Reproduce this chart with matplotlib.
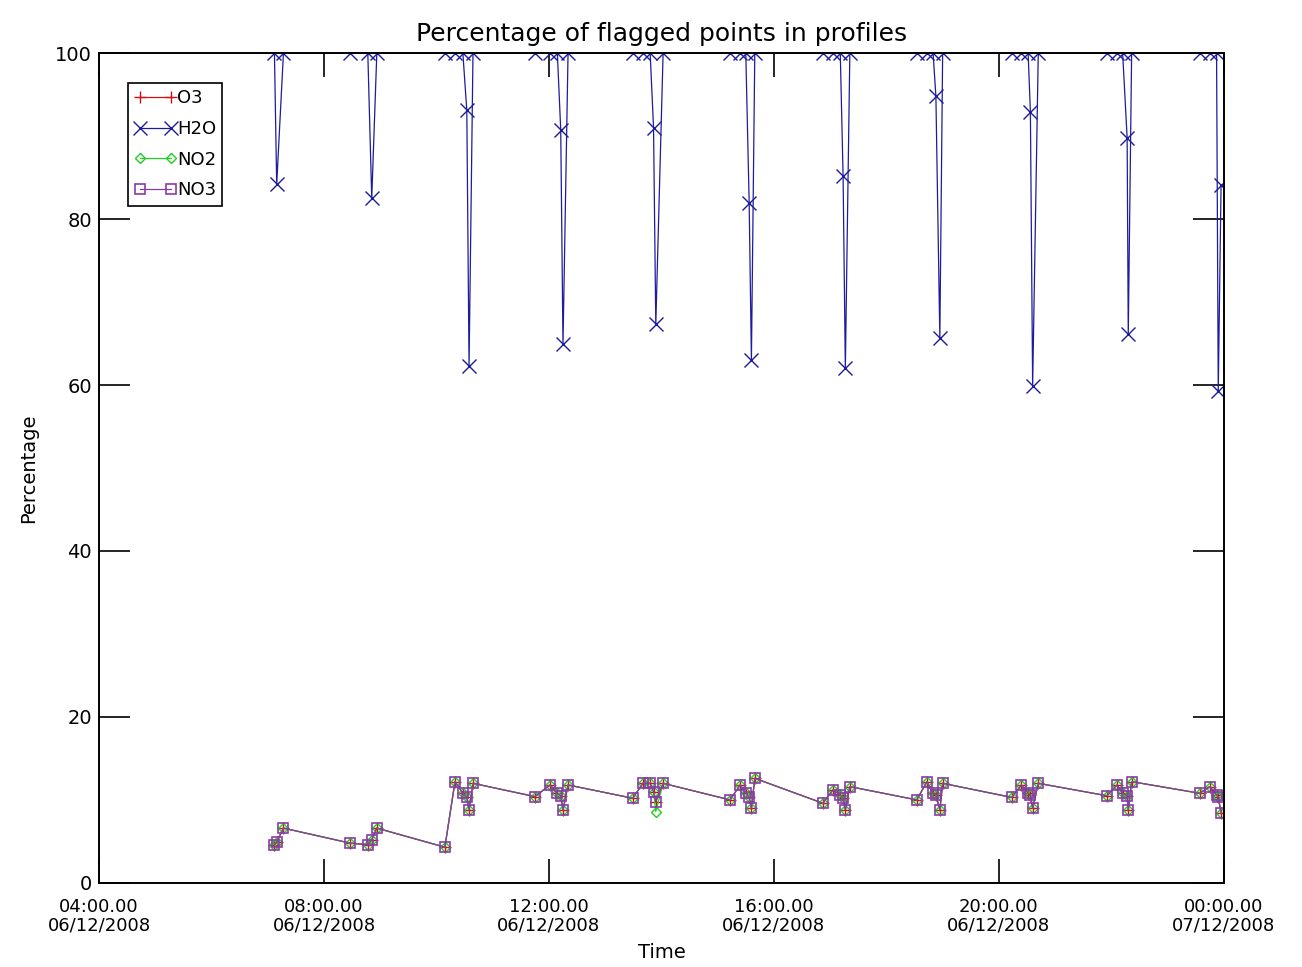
import numpy as np
import matplotlib
matplotlib.use('Agg')
import matplotlib.pyplot as plt

# profile times, hours since 06/12/2008 00:00
hours = [7.12, 7.16, 7.28,
         8.46, 8.78, 8.85, 8.94,
         10.15, 10.33, 10.47, 10.54, 10.58, 10.65,
         11.75, 12.02, 12.15, 12.21, 12.25, 12.34,
         13.49, 13.67, 13.80, 13.86, 13.90, 14.03,
         15.22, 15.40, 15.50, 15.56, 15.60, 15.66,
         16.87, 17.05, 17.18, 17.23, 17.27, 17.35,
         18.54, 18.72, 18.83, 18.88, 18.95, 19.00,
         20.23, 20.40, 20.52, 20.56, 20.60, 20.70,
         21.92, 22.10, 22.20, 22.28, 22.30, 22.36,
         23.57, 23.75, 23.87, 23.90, 23.95]

h2o = [100, 84.2, 100,
       100, 100, 82.5, 100,
       100, 100, 100, 93.1, 62.3, 100,
       100, 100, 100, 90.7, 64.9, 100,
       100, 100, 100, 91.0, 67.3, 100,
       100, 100, 100, 82.0, 63.0, 100,
       100, 100, 100, 85.2, 62.0, 100,
       100, 100, 100, 94.8, 65.7, 100,
       100, 100, 100, 92.9, 59.9, 100,
       100, 100, 100, 89.8, 66.1, 100,
       100, 100, 100, 59.3, 84.1]

o3 = [4.6, 4.9, 6.6,
      4.8, 4.6, 5.2, 6.6,
      4.3, 12.2, 10.8, 10.3, 8.8, 12.0,
      10.4, 11.8, 10.8, 10.5, 8.8, 11.8,
      10.2, 12.0, 12.0, 11.0, 9.8, 12.0,
      10.0, 11.8, 10.8, 10.3, 9.0, 12.6,
      9.6, 11.2, 10.6, 10.2, 8.8, 11.6,
      10.0, 12.2, 10.8, 10.6, 8.8, 12.0,
      10.3, 11.8, 10.8, 10.6, 9.0, 12.0,
      10.5, 11.8, 10.8, 10.5, 8.8, 12.2,
      10.8, 11.6, 10.6, 10.4, 8.4]

no2 = list(o3)
no2[23] = 8.6
no3 = list(o3)

xtick_hours = [4, 8, 12, 16, 20, 24]
xtick_labels = ['04:00.00\n06/12/2008', '08:00.00\n06/12/2008', '12:00.00\n06/12/2008',
                '16:00.00\n06/12/2008', '20:00.00\n06/12/2008', '00:00.00\n07/12/2008']
ytick_vals = [0, 20, 40, 60, 80, 100]

fig = plt.figure(figsize=(13.02, 9.67), dpi=100)
ax = fig.add_axes([0.076, 0.087, 0.864, 0.858])

ax.plot(hours, o3, color='#d01010', lw=0.9, marker='+', ms=8, mew=1.0, label='O3')
ax.plot(hours, h2o, color='#1c1c9c', lw=0.9, marker='x', ms=10, mew=1.0, label='H2O')
ax.plot(hours, no2, color='#20d020', lw=0.9, marker='D', ms=5, mew=1.0, mfc='none', label='NO2')
ax.plot(hours, no3, color='#8a3aa8', lw=0.9, marker='s', ms=7, mew=1.2, mfc='none', label='NO3')

ax.set_xlim(4, 24)
ax.set_ylim(0, 100)
ax.set_xticks(xtick_hours)
ax.set_xticklabels(xtick_labels, fontsize=13, linespacing=1.05)
ax.set_yticks(ytick_vals)
ax.set_yticklabels([str(v) for v in ytick_vals], fontsize=14)
ax.tick_params(axis='x', direction='in', length=17, width=1.2, top=True, pad=11)
ax.tick_params(axis='y', direction='in', length=22, width=1.2, right=True, pad=5)
for s in ax.spines.values():
    s.set_linewidth(1.4)

ax.set_title('Percentage of flagged points in profiles', fontsize=18, pad=9)
ax.set_xlabel('Time', fontsize=14, labelpad=6)
ax.set_ylabel('Percentage', fontsize=14, labelpad=12)

leg = ax.legend(loc='upper left', bbox_to_anchor=(0.026, 0.964), fontsize=13, numpoints=2,
                handlelength=2.3, handletextpad=0.05, borderpad=0.35, borderaxespad=0,
                labelspacing=0.7, fancybox=False, framealpha=1, edgecolor='black')
leg.get_frame().set_linewidth(1.2)

fig.savefig('out.png', dpi=100)
